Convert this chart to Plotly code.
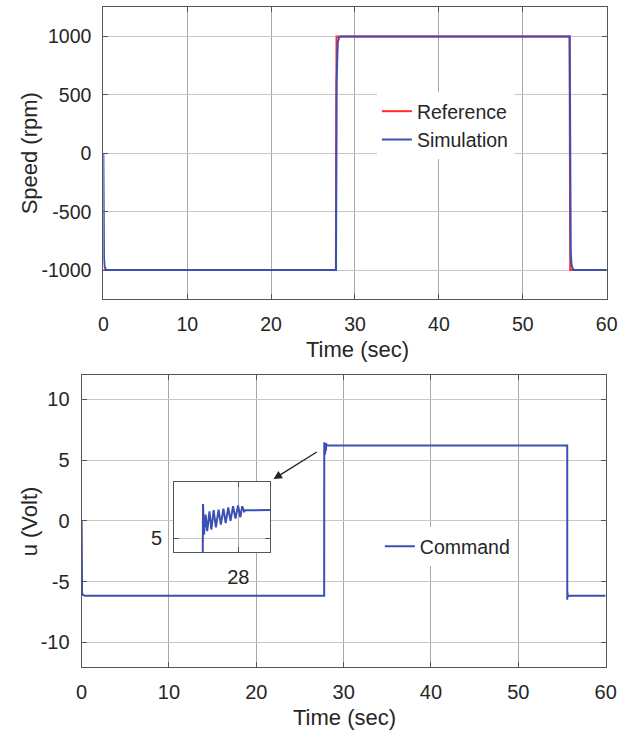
import plotly.graph_objects as go

# ---------------- data ----------------
# Speed plot
time_ref = [0.0, 27.72, 27.80, 55.58, 55.66, 60.0]
speed_ref = [-1000, -1000, 1000, 1000, -1000, -1000]

time_sim = [0.0, 0.03, 0.08, 0.15, 0.30, 0.50, 27.74, 27.80, 27.86, 27.95, 28.10, 28.30,
            55.60, 55.66, 55.72, 55.81, 55.96, 56.16, 60.0]
speed_sim = [0, -700, -900, -970, -995, -1000, -1000, 600, 850, 950, 990, 1000,
             1000, -600, -850, -950, -990, -1000, -1000]

# Command plot
time_cmd = [0.0, 0.01, 0.05, 0.15, 0.40, 27.77, 27.780, 27.786, 27.796, 27.806, 27.820,
            27.832, 27.846, 27.860, 27.877, 27.891, 27.907, 27.921, 27.937, 27.951,
            27.967, 27.982, 27.998, 28.012, 28.024, 28.036, 28.044, 28.20,
            55.600, 55.605, 55.620, 55.630, 55.645, 55.660, 55.680, 55.720, 56.00, 60.0]
u_cmd = [0.0, -5.5, -5.9, -6.1, -6.17, -6.17, 6.46, 5.14, 6.00, 5.29, 6.14,
         5.36, 6.19, 5.46, 6.21, 5.57, 6.26, 5.64, 6.31, 5.74,
         6.36, 5.83, 6.40, 5.89, 6.36, 6.14, 6.19, 6.20,
         6.20, -6.50, -5.90, -6.35, -6.00, -6.30, -6.10, -6.20, -6.17, -6.17]

x_ticks = [0, 10, 20, 30, 40, 50, 60]
x_ticktext = ["0", "10", "20", "30", "40", "50", "60"]
speed_ticks = [-1000, -500, 0, 500, 1000]
speed_ticktext = ["-1000", "-500", "0", "500", "1000"]
u_ticks = [-10, -5, 0, 5, 10]
u_ticktext = ["-10", "-5", "0", "5", "10"]
inset_x_ticks = [28]
inset_x_ticktext = ["28"]
inset_y_ticks = [5]
inset_y_ticktext = ["5"]

# ---------------- style ----------------
W, H = 641, 733
FONT = "Liberation Sans, Arial, sans-serif"
TXT = "#262626"
BLUE = "#3c50b4"
RED = "#ff2a2a"
AX = "#555555"


def px(p):
    return p / W


def py(p):
    return 1 - p / H


def ax_style(kind, size):
    return dict(showline=True, mirror="ticks", linecolor=AX, linewidth=1.2,
                ticks="inside", ticklen=5, tickcolor=AX, tickwidth=1,
                showgrid=True, gridcolor="#a8a8a8" if kind == "x" else "#c8c8c8",
                gridwidth=1, zeroline=False,
                tickfont=dict(family=FONT, size=size, color=TXT),
                ticklabelstandoff=7)


fig = go.Figure()

fig.add_trace(go.Scatter(x=time_ref, y=speed_ref, mode="lines", name="Reference",
                         line=dict(color=RED, width=2), xaxis="x", yaxis="y",
                         legend="legend"))
fig.add_trace(go.Scatter(x=time_sim, y=speed_sim, mode="lines", name="Simulation",
                         line=dict(color=BLUE, width=2), xaxis="x", yaxis="y",
                         legend="legend"))
fig.add_trace(go.Scatter(x=time_cmd, y=u_cmd, mode="lines", name="Command",
                         line=dict(color=BLUE, width=2), xaxis="x2", yaxis="y2",
                         legend="legend2"))
fig.add_trace(go.Scatter(x=time_cmd, y=u_cmd, mode="lines", name="Command",
                         line=dict(color=BLUE, width=2), xaxis="x3", yaxis="y3",
                         showlegend=False))

fig.update_layout(
    width=W, height=H,
    margin=dict(l=0, r=0, t=0, b=0),
    paper_bgcolor="white", plot_bgcolor="white",
    font=dict(family=FONT, color=TXT),
    xaxis=dict(ax_style("x", 19.5), domain=[px(100), px(617)], range=[0, 60],
               tickvals=x_ticks, ticktext=x_ticktext, anchor="y"),
    yaxis=dict(ax_style("y", 19.5), domain=[py(299.3), py(7.3)], range=[-1250, 1250],
               tickvals=speed_ticks, ticktext=speed_ticktext, anchor="x"),
    xaxis2=dict(ax_style("x", 20), domain=[px(77.7), px(616)], range=[0, 60],
                tickvals=x_ticks, ticktext=x_ticktext, anchor="y2"),
    yaxis2=dict(ax_style("y", 20), domain=[py(666.7), py(375)], range=[-12, 12],
                tickvals=u_ticks, ticktext=u_ticktext, anchor="x2"),
    xaxis3=dict(ax_style("x", 20), domain=[px(172.7), px(271.7)], range=[27.6, 28.2],
                tickvals=inset_x_ticks, ticktext=inset_x_ticktext, anchor="y3"),
    yaxis3=dict(ax_style("y", 20), domain=[py(552), py(482)], range=[4.4, 7.4],
                tickvals=inset_y_ticks, ticktext=inset_y_ticktext, anchor="x3"),
    legend=dict(x=px(381), y=py(92), xanchor="left", yanchor="top",
                bgcolor="white", borderwidth=0,
                font=dict(family=FONT, size=19.5, color=TXT), tracegroupgap=0),
    legend2=dict(x=px(384), y=py(527), xanchor="left", yanchor="top",
                 bgcolor="white", borderwidth=0,
                 font=dict(family=FONT, size=19.5, color=TXT)),
    showlegend=True,
)

ann = [
    dict(text="Time (sec)", x=px(361), y=py(349), xref="paper", yref="paper",
         xanchor="center", yanchor="middle", showarrow=False,
         font=dict(family=FONT, size=22, color=TXT)),
    dict(text="Time (sec)", x=px(348), y=py(717), xref="paper", yref="paper",
         xanchor="center", yanchor="middle", showarrow=False,
         font=dict(family=FONT, size=22, color=TXT)),
    dict(text="Speed (rpm)", x=px(24), y=py(153), xref="paper", yref="paper",
         xanchor="center", yanchor="middle", showarrow=False, textangle=-90,
         font=dict(family=FONT, size=22, color=TXT)),
    dict(text="u (Volt)", x=px(24), y=py(521), xref="paper", yref="paper",
         xanchor="center", yanchor="middle", showarrow=False, textangle=-90,
         font=dict(family=FONT, size=22, color=TXT)),
    dict(text="", x=21.97, y=3.44, xref="x2", yref="y2", ax=27.1, ay=5.74,
         axref="x2", ayref="y2", showarrow=True, arrowhead=2, arrowsize=1.3,
         arrowwidth=1.3, arrowcolor="#222222", standoff=0),
]
fig.update_layout(annotations=ann)

fig.write_html("out.html")
